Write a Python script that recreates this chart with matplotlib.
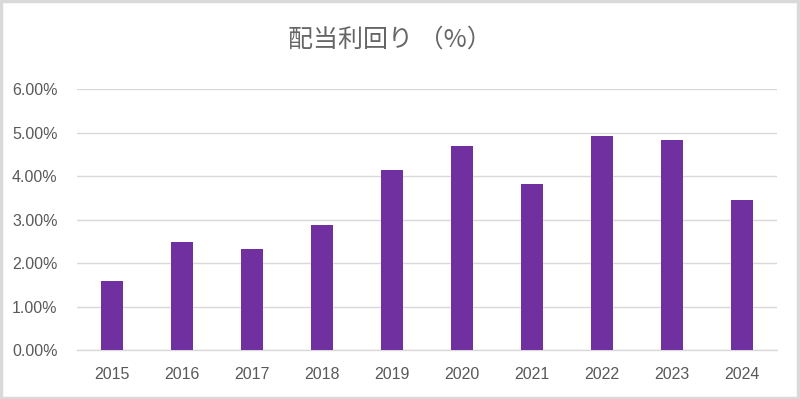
import matplotlib.pyplot as plt
import matplotlib.patches as mpatches
from matplotlib.ticker import FuncFormatter

plt.rcParams['font.family'] = ['Liberation Sans', 'Noto Sans CJK JP', 'DejaVu Sans']

years = ['2015', '2016', '2017', '2018', '2019', '2020', '2021', '2022', '2023', '2024']
yields = [1.59, 2.48, 2.32, 2.88, 4.15, 4.69, 3.82, 4.91, 4.83, 3.46]
title = '配当利回り （%）'

BAR_COLOR = '#7030A0'
TEXT_COLOR = '#595959'
GRID_COLOR = '#D9D9D9'

fig = plt.figure(figsize=(8.0, 3.99), dpi=100)
ax = fig.add_axes([0.09625, 0.1228, 0.875, 0.654])

x = range(len(years))
ax.bar(x, yields, width=0.32, color=BAR_COLOR, zorder=3)

ax.set_xlim(-0.5, len(years) - 0.5)
ax.set_ylim(0, 6)
ax.set_yticks([0, 1, 2, 3, 4, 5, 6])
ax.yaxis.set_major_formatter(FuncFormatter(lambda v, p: f'{v:.2f}%'))
ax.set_xticks(list(x))
ax.set_xticklabels(years)

ax.grid(axis='y', color=GRID_COLOR, linewidth=1, zorder=0)
for s in ['top', 'right', 'left']:
    ax.spines[s].set_visible(False)
ax.spines['bottom'].set_color(GRID_COLOR)
ax.spines['bottom'].set_linewidth(1)
ax.tick_params(axis='both', length=0, labelsize=11.5, colors=TEXT_COLOR)
ax.tick_params(axis='x', pad=12)
ax.tick_params(axis='y', pad=14)

fig.text(0.4875, 0.9, title, ha='center', va='center', fontsize=18,
         color='#666666', family=['Noto Sans CJK JP', 'DejaVu Sans'])

# chart area border
border = mpatches.Rectangle((0.001, 0.002), 0.997, 0.995, transform=fig.transFigure,
                            fill=False, edgecolor=GRID_COLOR, linewidth=2.5)
fig.patches.append(border)

fig.savefig('out.png', dpi=100)
